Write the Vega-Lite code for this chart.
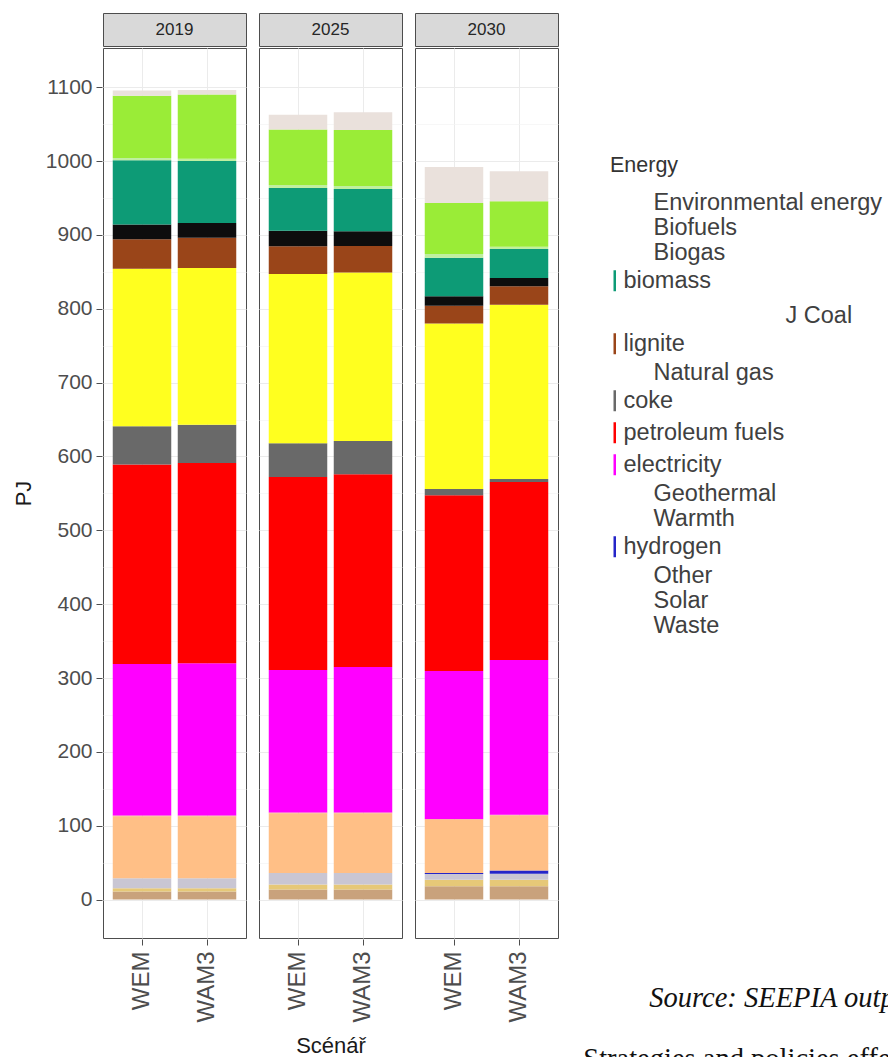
{
  "$schema": "https://vega.github.io/schema/vega-lite/v6.json",
  "background": "white",
  "padding": {"left": 12, "top": 12, "right": 0, "bottom": 0},
  "datasets": {
    "years": [{"year": "2019"}, {"year": "2025"}, {"year": "2030"}],
    "energy": [
      {"year": "2019", "scenario": "WEM", "energy": "Waste", "pj": 11},
      {"year": "2019", "scenario": "WEM", "energy": "Solar", "pj": 4.5},
      {"year": "2019", "scenario": "WEM", "energy": "Other", "pj": 13.5},
      {"year": "2019", "scenario": "WEM", "energy": "hydrogen", "pj": 0},
      {"year": "2019", "scenario": "WEM", "energy": "Warmth", "pj": 84},
      {"year": "2019", "scenario": "WEM", "energy": "Geothermal", "pj": 1},
      {"year": "2019", "scenario": "WEM", "energy": "electricity", "pj": 205},
      {"year": "2019", "scenario": "WEM", "energy": "petroleum fuels", "pj": 270},
      {"year": "2019", "scenario": "WEM", "energy": "coke", "pj": 52},
      {"year": "2019", "scenario": "WEM", "energy": "Natural gas", "pj": 213},
      {"year": "2019", "scenario": "WEM", "energy": "lignite", "pj": 40},
      {"year": "2019", "scenario": "WEM", "energy": "Coal", "pj": 20},
      {"year": "2019", "scenario": "WEM", "energy": "biomass", "pj": 87},
      {"year": "2019", "scenario": "WEM", "energy": "Biogas", "pj": 3},
      {"year": "2019", "scenario": "WEM", "energy": "Biofuels", "pj": 84.5},
      {"year": "2019", "scenario": "WEM", "energy": "Environmental energy", "pj": 7},
      {"year": "2019", "scenario": "WAM3", "energy": "Waste", "pj": 11},
      {"year": "2019", "scenario": "WAM3", "energy": "Solar", "pj": 4.5},
      {"year": "2019", "scenario": "WAM3", "energy": "Other", "pj": 13.5},
      {"year": "2019", "scenario": "WAM3", "energy": "hydrogen", "pj": 0},
      {"year": "2019", "scenario": "WAM3", "energy": "Warmth", "pj": 84},
      {"year": "2019", "scenario": "WAM3", "energy": "Geothermal", "pj": 1},
      {"year": "2019", "scenario": "WAM3", "energy": "electricity", "pj": 206},
      {"year": "2019", "scenario": "WAM3", "energy": "petroleum fuels", "pj": 271},
      {"year": "2019", "scenario": "WAM3", "energy": "coke", "pj": 52},
      {"year": "2019", "scenario": "WAM3", "energy": "Natural gas", "pj": 212},
      {"year": "2019", "scenario": "WAM3", "energy": "lignite", "pj": 41},
      {"year": "2019", "scenario": "WAM3", "energy": "Coal", "pj": 20},
      {"year": "2019", "scenario": "WAM3", "energy": "biomass", "pj": 84},
      {"year": "2019", "scenario": "WAM3", "energy": "Biogas", "pj": 3},
      {"year": "2019", "scenario": "WAM3", "energy": "Biofuels", "pj": 87},
      {"year": "2019", "scenario": "WAM3", "energy": "Environmental energy", "pj": 6},
      {"year": "2025", "scenario": "WEM", "energy": "Waste", "pj": 13.5},
      {"year": "2025", "scenario": "WEM", "energy": "Solar", "pj": 7},
      {"year": "2025", "scenario": "WEM", "energy": "Other", "pj": 15.5},
      {"year": "2025", "scenario": "WEM", "energy": "hydrogen", "pj": 0},
      {"year": "2025", "scenario": "WEM", "energy": "Warmth", "pj": 81},
      {"year": "2025", "scenario": "WEM", "energy": "Geothermal", "pj": 1},
      {"year": "2025", "scenario": "WEM", "energy": "electricity", "pj": 193},
      {"year": "2025", "scenario": "WEM", "energy": "petroleum fuels", "pj": 261},
      {"year": "2025", "scenario": "WEM", "energy": "coke", "pj": 46},
      {"year": "2025", "scenario": "WEM", "energy": "Natural gas", "pj": 229},
      {"year": "2025", "scenario": "WEM", "energy": "lignite", "pj": 37.5},
      {"year": "2025", "scenario": "WEM", "energy": "Coal", "pj": 21},
      {"year": "2025", "scenario": "WEM", "energy": "biomass", "pj": 58},
      {"year": "2025", "scenario": "WEM", "energy": "Biogas", "pj": 4},
      {"year": "2025", "scenario": "WEM", "energy": "Biofuels", "pj": 75},
      {"year": "2025", "scenario": "WEM", "energy": "Environmental energy", "pj": 20},
      {"year": "2025", "scenario": "WAM3", "energy": "Waste", "pj": 13.5},
      {"year": "2025", "scenario": "WAM3", "energy": "Solar", "pj": 7},
      {"year": "2025", "scenario": "WAM3", "energy": "Other", "pj": 15.5},
      {"year": "2025", "scenario": "WAM3", "energy": "hydrogen", "pj": 0},
      {"year": "2025", "scenario": "WAM3", "energy": "Warmth", "pj": 81},
      {"year": "2025", "scenario": "WAM3", "energy": "Geothermal", "pj": 1},
      {"year": "2025", "scenario": "WAM3", "energy": "electricity", "pj": 197},
      {"year": "2025", "scenario": "WAM3", "energy": "petroleum fuels", "pj": 261},
      {"year": "2025", "scenario": "WAM3", "energy": "coke", "pj": 45},
      {"year": "2025", "scenario": "WAM3", "energy": "Natural gas", "pj": 228},
      {"year": "2025", "scenario": "WAM3", "energy": "lignite", "pj": 36},
      {"year": "2025", "scenario": "WAM3", "energy": "Coal", "pj": 20},
      {"year": "2025", "scenario": "WAM3", "energy": "biomass", "pj": 57},
      {"year": "2025", "scenario": "WAM3", "energy": "Biogas", "pj": 4},
      {"year": "2025", "scenario": "WAM3", "energy": "Biofuels", "pj": 76},
      {"year": "2025", "scenario": "WAM3", "energy": "Environmental energy", "pj": 24},
      {"year": "2030", "scenario": "WEM", "energy": "Waste", "pj": 18},
      {"year": "2030", "scenario": "WEM", "energy": "Solar", "pj": 9},
      {"year": "2030", "scenario": "WEM", "energy": "Other", "pj": 7.5},
      {"year": "2030", "scenario": "WEM", "energy": "hydrogen", "pj": 1.5},
      {"year": "2030", "scenario": "WEM", "energy": "Warmth", "pj": 72},
      {"year": "2030", "scenario": "WEM", "energy": "Geothermal", "pj": 1},
      {"year": "2030", "scenario": "WEM", "energy": "electricity", "pj": 200.5},
      {"year": "2030", "scenario": "WEM", "energy": "petroleum fuels", "pj": 238},
      {"year": "2030", "scenario": "WEM", "energy": "coke", "pj": 8.5},
      {"year": "2030", "scenario": "WEM", "energy": "Natural gas", "pj": 224},
      {"year": "2030", "scenario": "WEM", "energy": "lignite", "pj": 24},
      {"year": "2030", "scenario": "WEM", "energy": "Coal", "pj": 13},
      {"year": "2030", "scenario": "WEM", "energy": "biomass", "pj": 52},
      {"year": "2030", "scenario": "WEM", "energy": "Biogas", "pj": 5},
      {"year": "2030", "scenario": "WEM", "energy": "Biofuels", "pj": 69},
      {"year": "2030", "scenario": "WEM", "energy": "Environmental energy", "pj": 49},
      {"year": "2030", "scenario": "WAM3", "energy": "Waste", "pj": 18},
      {"year": "2030", "scenario": "WAM3", "energy": "Solar", "pj": 9},
      {"year": "2030", "scenario": "WAM3", "energy": "Other", "pj": 8},
      {"year": "2030", "scenario": "WAM3", "energy": "hydrogen", "pj": 4.5},
      {"year": "2030", "scenario": "WAM3", "energy": "Warmth", "pj": 74.5},
      {"year": "2030", "scenario": "WAM3", "energy": "Geothermal", "pj": 1},
      {"year": "2030", "scenario": "WAM3", "energy": "electricity", "pj": 209.5},
      {"year": "2030", "scenario": "WAM3", "energy": "petroleum fuels", "pj": 241},
      {"year": "2030", "scenario": "WAM3", "energy": "coke", "pj": 4},
      {"year": "2030", "scenario": "WAM3", "energy": "Natural gas", "pj": 236},
      {"year": "2030", "scenario": "WAM3", "energy": "lignite", "pj": 25},
      {"year": "2030", "scenario": "WAM3", "energy": "Coal", "pj": 11},
      {"year": "2030", "scenario": "WAM3", "energy": "biomass", "pj": 39.5},
      {"year": "2030", "scenario": "WAM3", "energy": "Biogas", "pj": 3},
      {"year": "2030", "scenario": "WAM3", "energy": "Biofuels", "pj": 61.5},
      {"year": "2030", "scenario": "WAM3", "energy": "Environmental energy", "pj": 40.5}
    ]
  },
  "title": {
    "text": "Strategies and policies effects",
    "orient": "bottom",
    "anchor": "start",
    "dx": 571,
    "offset": -12,
    "font": "Liberation Serif",
    "fontStyle": "normal",
    "fontWeight": "normal",
    "fontSize": 28.5,
    "color": "#111111"
  },
  "spacing": 0,
  "vconcat": [
    {
      "data": {"name": "years"},
      "facet": {"column": {"field": "year", "type": "nominal", "header": null}},
      "spacing": 11,
      "spec": {
        "width": 143,
        "height": 33,
        "view": {"fill": "#D9D9D9", "stroke": "#4D4D4D"},
        "mark": {"type": "text", "font": "Liberation Sans", "fontSize": 17, "color": "#262626"},
        "encoding": {"text": {"field": "year", "type": "nominal"}}
      }
    },
    {
      "data": {"name": "energy"},
      "title": {
        "text": "Source: SEEPIA outputs",
        "orient": "bottom",
        "anchor": "start",
        "dx": 637,
        "offset": -73,
        "font": "Liberation Serif",
        "fontStyle": "italic",
        "fontWeight": "normal",
        "fontSize": 28.5,
        "color": "#111111"
      },
      "transform": [
        {"calculate": "indexof(['Waste','Solar','Other','hydrogen','Warmth','Geothermal','electricity','petroleum fuels','coke','Natural gas','lignite','Coal','biomass','Biogas','Biofuels','Environmental energy'], datum.energy)", "as": "stack_rank"}
      ],
      "facet": {
        "column": {
          "field": "year",
          "type": "nominal",
          "header": {
            "title": "Scénář",
            "titleOrient": "bottom",
            "labels": false,
            "titleFont": "Liberation Sans",
            "titleFontSize": 22,
            "titleFontWeight": "normal",
            "titleColor": "#1A1A1A",
            "titlePadding": 3
          }
        }
      },
      "spacing": 11,
      "spec": {
        "width": 143,
        "height": 890,
        "layer": [
          {
            "mark": {"type": "bar"},
            "encoding": {
              "x": {
                "field": "scenario",
                "type": "nominal",
                "sort": ["WEM", "WAM3"],
                "scale": {"paddingInner": 0.1, "paddingOuter": 0.15},
                "axis": {"title": null, "labelAngle": 270, "grid": true, "labelPadding": 6, "labelFontSize": 24}
              },
              "y": {
                "field": "pj",
                "type": "quantitative",
                "stack": "zero",
                "scale": {"domain": [-52, 1153], "nice": false, "zero": false},
                "axis": {
                  "title": "PJ",
                  "format": "d",
                  "values": [0, 100, 200, 300, 400, 500, 600, 700, 800, 900, 1000, 1100],
                  "grid": true,
                  "labelPadding": 4,
                  "titlePadding": 10
                }
              },
              "order": {"field": "stack_rank", "type": "quantitative", "sort": "ascending"},
              "color": {
                "field": "energy",
                "type": "nominal",
                "scale": {
                  "domain": ["Environmental energy", "Biofuels", "Biogas", "biomass", "Coal", "lignite", "Natural gas", "coke", "petroleum fuels", "electricity", "Geothermal", "Warmth", "hydrogen", "Other", "Solar", "Waste"],
                  "range": ["#EAE1DC", "#9AEC37", "#BFEFA0", "#0D9B76", "#0D0D0D", "#9A4519", "#FFFF1F", "#696969", "#FF0000", "#FF00FF", "#F7A08C", "#FFBF86", "#2525C8", "#C9C6D3", "#E6C878", "#C9A27C"]
                },
                "legend": {
                  "orient": "none",
                  "legendX": 500,
                  "legendY": 142,
                  "padding": 0,
                  "title": "Energy",
                  "titleFont": "Liberation Sans",
                  "titleFontSize": 21.5,
                  "titleFontWeight": "normal",
                  "titleColor": "#333333",
                  "titlePadding": 14.5,
                  "labelFont": "Liberation Sans",
                  "labelFontSize": 23.5,
                  "labelColor": "#404040",
                  "labelLimit": 400,
                  "labelOffset": -3,
                  "symbolType": "M0,-3.5L0,3.5",
                  "symbolSize": 36,
                  "symbolStrokeWidth": 2.5,
                  "rowPadding": 0,
                  "labelExpr": "datum.label == 'Coal' ? 'J Coal' : datum.label",
                  "encode": {
                    "title": {"update": {"dx": {"value": 7}}},
                    "symbols": {
                      "update": {
                        "stroke": {"scale": "color", "field": "value"},
                        "opacity": {"signal": "indexof(['biomass','lignite','coke','petroleum fuels','electricity','hydrogen'], datum.value) >= 0 ? 1 : 0"}
                      }
                    },
                    "labels": {
                      "update": {
                        "dx": {"signal": "datum.value == 'Coal' ? 162 : (indexof(['biomass','lignite','coke','petroleum fuels','electricity','hydrogen'], datum.value) >= 0 ? 0 : 30)"},
                        "dy": {"signal": "datum.value == 'Coal' ? 7 : 0"}
                      }
                    }
                  }
                }
              }
            }
          },
          {
            "mark": {"type": "rule", "opacity": 0},
            "encoding": {
              "y": {
                "datum": 0,
                "type": "quantitative",
                "axis": {
                  "orient": "right",
                  "values": [50, 150, 250, 350, 450, 550, 650, 750, 850, 950, 1050],
                  "grid": true,
                  "gridColor": "#F3F3F3",
                  "gridWidth": 0.7,
                  "labels": false,
                  "ticks": false,
                  "domain": false,
                  "title": null
                }
              }
            }
          }
        ],
        "resolve": {"axis": {"y": "independent"}}
      }
    }
  ],
  "config": {
    "font": "Liberation Sans",
    "view": {"stroke": "#4D4D4D", "strokeWidth": 1},
    "axis": {
      "labelFont": "Liberation Sans",
      "labelFontSize": 21,
      "labelColor": "#4D4D4D",
      "tickColor": "#4D4D4D",
      "tickSize": 6,
      "domain": false,
      "gridColor": "#EBEBEB",
      "gridWidth": 1,
      "titleFont": "Liberation Sans",
      "titleFontSize": 22,
      "titleFontWeight": "normal",
      "titleColor": "#1A1A1A"
    }
  }
}
